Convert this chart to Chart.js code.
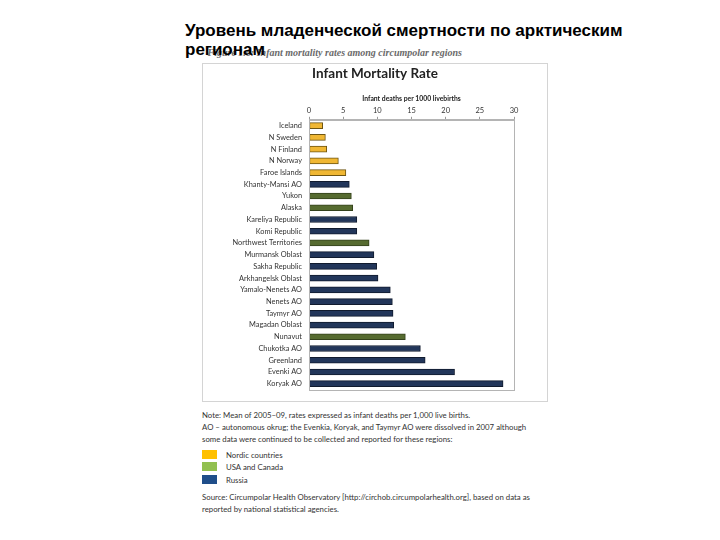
<!DOCTYPE html>
<html>
<head>
<meta charset="utf-8">
<script src="https://cdn.jsdelivr.net/npm/chart.js@4.4.1/dist/chart.umd.min.js"></script>
<style>
  body { margin: 0; width: 720px; height: 540px; background: #fff; position: relative; overflow: hidden; }
  .abs { position: absolute; white-space: nowrap; }
  #slideTitle { left: 185px; top: 21px; width: 470px; white-space: normal; font: bold 17px "Liberation Sans", Arial, sans-serif; line-height: 19px; color: #000; z-index: 2; }
  #caption { right: 258px; top: 47px; font: italic bold 10px "Liberation Serif", serif; color: #6a6a6a; z-index: 1; }
  #frame { left: 202px; top: 63px; width: 344px; height: 337px; border: 1px solid #d4d4d4; }
  .note { font: 7.8px Lato, sans-serif; color: #333; left: 202px; }
  .swatch { position: absolute; left: 202px; width: 15px; height: 9px; }
</style>
</head>
<body>
<div id="slideTitle" class="abs">Уровень младенческой смертности по арктическим регионам</div>
<div id="caption" class="abs">Figure 1.6: Infant mortality rates among circumpolar regions</div>
<div id="frame" class="abs"><canvas id="bar-chart" width="344" height="337"></canvas></div>

<div class="abs note" style="top:410px">Note: Mean of 2005–09, rates expressed as infant deaths per 1,000 live births.</div>
<div class="abs note" style="top:422px">AO – autonomous okrug; the Evenkia, Koryak, and Taymyr AO were dissolved in 2007 although</div>
<div class="abs note" style="top:434px">some data were continued to be collected and reported for these regions:</div>
<div id="legend"></div>
<div class="abs note" style="top:492px">Source: Circumpolar Health Observatory [http://circhob.circumpolarhealth.org], based on data as</div>
<div class="abs note" style="top:504px">reported by national statistical agencies.</div>

<script>
// Data
const regions = ["Iceland", "N Sweden", "N Finland", "N Norway", "Faroe Islands", "Khanty-Mansi AO", "Yukon", "Alaska",
    "Kareliya Republic", "Komi Republic", "Northwest Territories", "Murmansk Oblast", "Sakha Republic", "Arkhangelsk Oblast",
    "Yamalo-Nenets AO", "Nenets AO", "Taymyr AO", "Magadan Oblast", "Nunavut", "Chukotka AO", "Greenland", "Evenki AO", "Koryak AO"];
const rates = [2.0, 2.4, 2.6, 4.3, 5.4, 5.9, 6.2, 6.4, 7.0, 7.0, 8.8, 9.5, 9.9, 10.1, 11.9, 12.2, 12.3, 12.4, 14.1, 16.3, 17.0, 21.3, 28.4];
// bar colour group as drawn in the figure (Greenland is shown in the dark blue)
const groups = ["nordic", "nordic", "nordic", "nordic", "nordic", "russia", "usacan", "usacan",
    "russia", "russia", "usacan", "russia", "russia", "russia",
    "russia", "russia", "russia", "russia", "usacan", "russia", "russia", "russia", "russia"];
const xTicks = [0, 5, 10, 15, 20, 25, 30];

const groupNames = ["Nordic countries", "USA and Canada", "Russia"];
const legendColors = ["#FFC000", "#92C050", "#1F4E8A"];
const barColors = { nordic: "#F0B733", usacan: "#566B30", russia: "#22365A" };
const barEdges = { nordic: "#6E5512", usacan: "#34421C", russia: "#111B2E" };

// legend below the chart
const legend = document.getElementById("legend");
groupNames.forEach(function (name, i) {
    const sw = document.createElement("div");
    sw.className = "swatch";
    sw.style.top = (450 + i * 12.3) + "px";
    sw.style.background = legendColors[i];
    legend.appendChild(sw);
    const lb = document.createElement("div");
    lb.className = "abs note";
    lb.style.left = "226px";
    lb.style.top = (450 + i * 12.3) + "px";
    lb.textContent = name;
    legend.appendChild(lb);
});

Chart.defaults.font.family = "Lato, sans-serif";
Chart.defaults.color = "#333";

// plot area box
const plotBox = {
    id: "plotBox",
    afterDraw(chart) {
        const a = chart.chartArea, c = chart.ctx;
        c.save();
        c.strokeStyle = "#b4b4b4";
        c.lineWidth = 1;
        c.strokeRect(Math.round(a.left) + 0.5, Math.round(a.top) + 0.5, Math.round(a.right - a.left), Math.round(a.bottom - a.top));
        c.restore();
    }
};

const ctx = document.getElementById("bar-chart").getContext("2d");
const myChart = new Chart(ctx, {
    type: "bar",
    data: {
        labels: regions,
        datasets: [{
            data: rates,
            backgroundColor: groups.map(g => barColors[g]),
            borderColor: groups.map(g => barEdges[g]),
            borderWidth: 1,
            borderSkipped: false,
            barThickness: 6
        }]
    },
    options: {
        indexAxis: "y",
        responsive: false,
        animation: false,
        layout: { padding: { left: 0, right: 0, bottom: 5, top: 0 } },
        plugins: {
            legend: { display: false },
            tooltip: { enabled: false },
            title: {
                display: true,
                text: "Infant Mortality Rate",
                color: "#222",
                font: { size: 13.5, weight: "bold" },
                padding: { top: 2, bottom: 4 }
            }
        },
        scales: {
            x: {
                position: "top",
                min: 0,
                max: 30,
                afterBuildTicks(scale) { scale.ticks = xTicks.map(v => ({ value: v })); },
                afterFit(scale) { scale.height = 33.6; },
                grid: { drawOnChartArea: false, drawTicks: true, tickLength: 3, color: "#999" },
                border: { display: true, color: "#b4b4b4" },
                ticks: { font: { size: 7.5 }, padding: 2, color: "#333" },
                title: {
                    display: true,
                    text: "Infant deaths per 1000 livebirths",
                    font: { size: 6.8, weight: "bold" },
                    color: "#222",
                    padding: { top: 9, bottom: 0 }
                }
            },
            y: {
                afterFit(scale) { scale.width = 106; },
                grid: { display: false, drawTicks: false },
                border: { display: true, color: "#b4b4b4" },
                ticks: { font: { size: 7.4 }, padding: 7, color: "#333", autoSkip: false }
            },
            // empty space on the right of the plot
            yRight: {
                type: "category",
                position: "right",
                afterFit(scale) { scale.width = 33; },
                grid: { display: false, drawTicks: false },
                border: { display: false },
                ticks: { display: false }
            }
        }
    },
    plugins: [plotBox]
});
</script>
</body>
</html>
